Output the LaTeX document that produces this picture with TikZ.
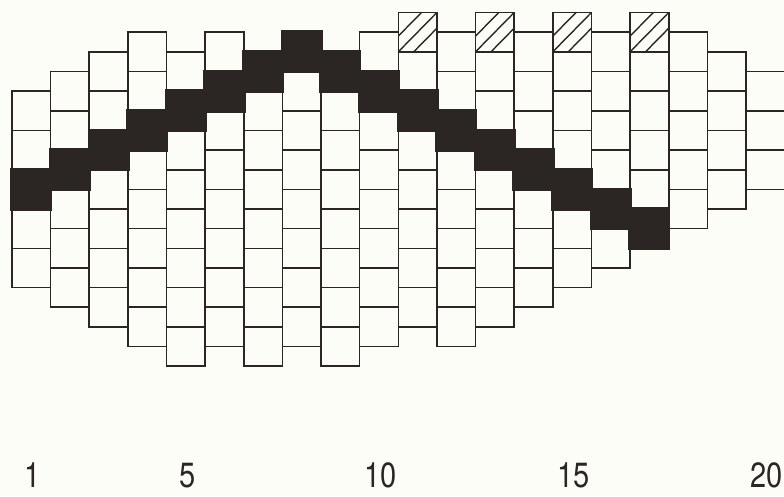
\documentclass[tikz,border=0pt]{standalone}
\usepackage{fontspec}
\setmainfont{TeX Gyre Heros}

\definecolor{paper}{HTML}{FDFDF8}
\definecolor{ink}{HTML}{2B2624}

\newcommand*{\cellw}{38.63pt}
\newcommand*{\halfh}{19.65pt}
\newcommand*{\numrow}{24.15}

\begin{document}
\begin{tikzpicture}[x=\cellw, y=-\halfh,
	cellbox/.style={draw=ink, line width=1.6pt},
	band/.style={fill=ink, draw=ink, line width=3.5pt},
	hatch/.style={draw=ink, line width=1.4pt},
	colnum/.style={anchor=base, inner sep=0pt, text=ink, xshift=1.5pt, font=\fontsize{35}{35}\selectfont}]

	\fill[paper] (-12pt,12.5pt) rectangle (772pt,-483.5pt);
	\useasboundingbox (-12pt,12.5pt) rectangle (772pt,-483.5pt);

	% cells: column / top row / number of cells
	\foreach \c/\r/\n in {1/4/5, 2/3/6, 3/2/7, 4/1/8, 5/2/8, 6/1/8, 7/2/8, 8/1/8, 9/2/8, 10/1/8,
		11/0/8, 12/1/8, 13/0/8, 14/1/7, 15/0/7, 16/1/6, 17/0/6, 18/1/5, 19/2/4, 20/3/3}
		\foreach \k in {1,...,\n}
			\draw[cellbox] ({\c-1},{\r+2*\k-2}) rectangle ++(1,2);

	% black band
	\foreach \c/\r in {1/8, 2/7, 3/6, 4/5, 5/4, 6/3, 7/2, 8/1, 9/2, 10/3, 11/4, 12/5,
		13/6, 14/7, 15/8, 16/9, 17/10}
		\fill[band] ({\c-1},\r) rectangle ++(1,2);

	% hatched tops
	\foreach \c in {11,13,15,17} {
		\begin{scope}
			\clip ({\c-1},0) rectangle ++(1,2);
			\foreach \t in {0.6,1.0,1.4}
				\draw[hatch] ({\c-2+\t},2) -- ({\c-1+\t},0);
		\end{scope}
		\draw[cellbox] ({\c-1},0) rectangle ++(1,2);
	}

	% column numbers
	\foreach \c in {1,5,10,15,20}
		\node[colnum] (n\c) at ({\c-0.5},\numrow) {\scalebox{0.83}[1]{\c}};

\end{tikzpicture}
\end{document}
